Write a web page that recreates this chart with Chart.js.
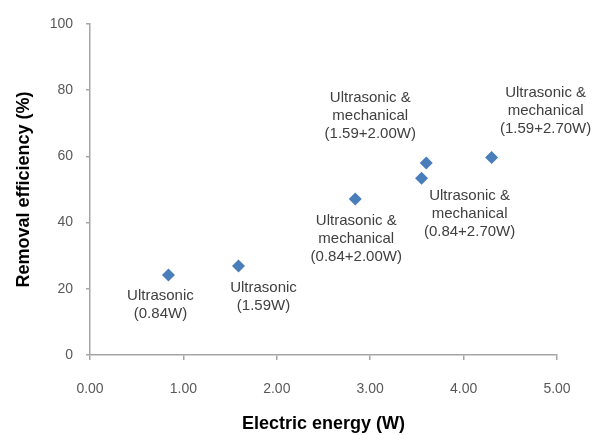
<!DOCTYPE html>
<html lang="en">
<head>
    <meta charset="UTF-8">
    <title>Removal efficiency vs electric energy</title>
    <style>
        html, body { margin: 0; padding: 0; background: #fff; }
        #wrap { width: 592px; height: 435px; }
    </style>
</head>
<body>
    <div id="wrap"><canvas id="myChart" width="592" height="435"></canvas></div>

    <script src="https://cdn.jsdelivr.net/npm/chart.js@4.4.0/dist/chart.umd.min.js"></script>
    <script>

        // values
        const energy = [0.84, 1.59, 2.84, 3.55, 3.60, 4.30];
        const efficiency = [24.2, 26.9, 47.1, 53.4, 58.0, 59.7];
        const pointNames = [
            ['Ultrasonic', '(0.84W)'],
            ['Ultrasonic', '(1.59W)'],
            ['Ultrasonic &', 'mechanical', '(0.84+2.00W)'],
            ['Ultrasonic &', 'mechanical', '(0.84+2.70W)'],
            ['Ultrasonic &', 'mechanical', '(1.59+2.00W)'],
            ['Ultrasonic &', 'mechanical', '(1.59+2.70W)']
        ];
        const xTicks = [0, 1, 2, 3, 4, 5];
        const yTicks = [0, 20, 40, 60, 80, 100];

        // where each label sits relative to its point (px)
        const labelOffsets = [
            [-8, 21], [25, 22], [1, 22], [48, 18], [-56, -65], [54, -65]
        ];

        const axisGrey = '#a6a6a6';
        const font = 'Liberation Sans, Arial, sans-serif';

        const pointLabels = {
            id: 'pointLabels',
            afterDatasetsDraw(chart) {
                const ctx = chart.ctx;
                const xs = chart.scales.x, ys = chart.scales.y;
                ctx.save();
                ctx.font = '15px ' + font;
                ctx.fillStyle = '#404040';
                ctx.textAlign = 'center';
                ctx.textBaseline = 'middle';
                pointNames.forEach((lines, i) => {
                    const px = xs.getPixelForValue(energy[i]) + labelOffsets[i][0];
                    const py = ys.getPixelForValue(efficiency[i]) + labelOffsets[i][1];
                    lines.forEach((t, j) => ctx.fillText(t, px, py + j * 18));
                });
                ctx.restore();
            }
        };

        const ctx = document.getElementById('myChart').getContext('2d');
        new Chart(ctx, {
            type: 'scatter',
            data: {
                datasets: [{
                    data: energy.map((e, i) => ({ x: e, y: efficiency[i] })),
                    pointStyle: 'rectRot',
                    pointRadius: 6.5,
                    pointHoverRadius: 6.5,
                    backgroundColor: '#4a7ebb',
                    borderColor: '#4a7ebb',
                    borderWidth: 0
                }]
            },
            options: {
                responsive: false,
                animation: false,
                devicePixelRatio: 1,
                layout: { padding: { left: 0, top: 24, right: 35, bottom: 0 } },
                plugins: { legend: { display: false }, tooltip: { enabled: false } },
                scales: {
                    x: {
                        type: 'linear',
                        min: 0, max: 5,
                        afterFit(s) { s.height = 80; },
                        afterBuildTicks(s) { s.ticks = xTicks.map(v => ({ value: v })); },
                        border: { color: axisGrey, width: 1.5 },
                        grid: { drawOnChartArea: false, color: axisGrey, tickLength: 5, lineWidth: 1.5 },
                        ticks: {
                            padding: 21,
                            color: '#595959',
                            font: { family: font, size: 14 },
                            callback: v => v.toFixed(2)
                        },
                        title: {
                            display: true,
                            text: 'Electric energy (W)',
                            color: '#000',
                            font: { family: font, size: 18, weight: 'bold' },
                            padding: { top: 8, bottom: 0 }
                        }
                    },
                    y: {
                        min: 0, max: 100,
                        afterFit(s) { s.width = 90; },
                        afterBuildTicks(s) { s.ticks = yTicks.map(v => ({ value: v })); },
                        border: { color: axisGrey, width: 1.5 },
                        grid: { drawOnChartArea: false, color: axisGrey, tickLength: 4, lineWidth: 1.5 },
                        ticks: {
                            padding: 13,
                            color: '#595959',
                            font: { family: font, size: 14 }
                        },
                        title: {
                            display: true,
                            text: 'Removal efficiency (%)',
                            color: '#000',
                            font: { family: font, size: 18, weight: 'bold' },
                            padding: { top: 13, bottom: 0 }
                        }
                    }
                }
            },
            plugins: [pointLabels]
        });

    </script>
</body>
</html>
